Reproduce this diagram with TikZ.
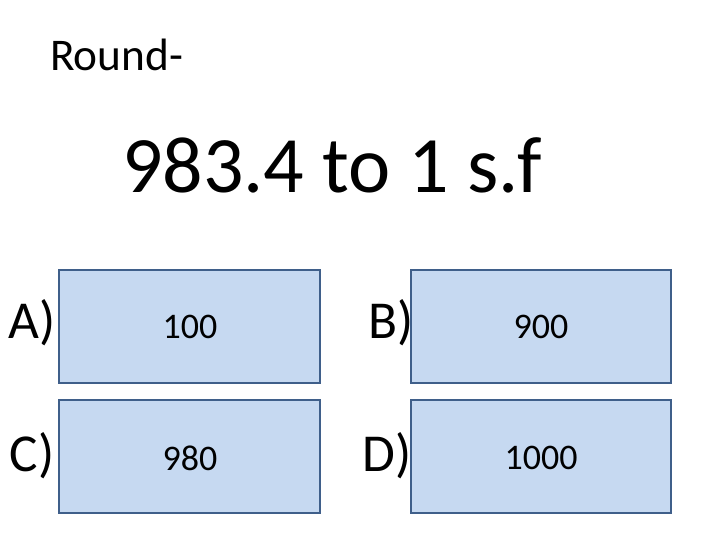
\documentclass[tikz,border=0pt]{standalone}
\usepackage{fontspec}
\setmainfont{Carlito}
\definecolor{boxfill}{HTML}{C6D9F1}
\definecolor{boxline}{HTML}{3F5F8A}
\begin{document}
\begin{tikzpicture}[x=0.75pt,y=-0.75pt,
  ans/.style={draw=boxline,fill=boxfill,line width=1.5pt},
  txt/.style={inner sep=0pt,anchor=center}]
\useasboundingbox (0,0) rectangle (720,540);
\fill[white] (0,0) rectangle (720,540);
\node[txt,anchor=west] (round) at (50,55) {\fontsize{34}{38}\selectfont Round-};
\node[txt] (q) at (332,165) {\fontsize{60}{66}\selectfont 983.4 to 1 s.f};
\draw[ans] (59,270) rectangle (320,383);
\draw[ans] (411,270) rectangle (671,383);
\draw[ans] (59,400) rectangle (320,513);
\draw[ans] (411,400) rectangle (671,513);
\node[txt] (a) at (32,323) {\fontsize{40}{44}\selectfont A)};
\node[txt] (b) at (391,323) {\fontsize{40}{44}\selectfont B)};
\node[txt] (c) at (32,456) {\fontsize{40}{44}\selectfont C)};
\node[txt] (d) at (387,456) {\fontsize{40}{44}\selectfont D)};
\node[txt] (va) at (190,327) {\fontsize{27}{30}\selectfont 100};
\node[txt] (vb) at (541,327) {\fontsize{27}{30}\selectfont 900};
\node[txt] (vc) at (190,458) {\fontsize{27}{30}\selectfont 980};
\node[txt] (vd) at (541,458) {\fontsize{27}{30}\selectfont 1000};
\end{tikzpicture}
\end{document}
